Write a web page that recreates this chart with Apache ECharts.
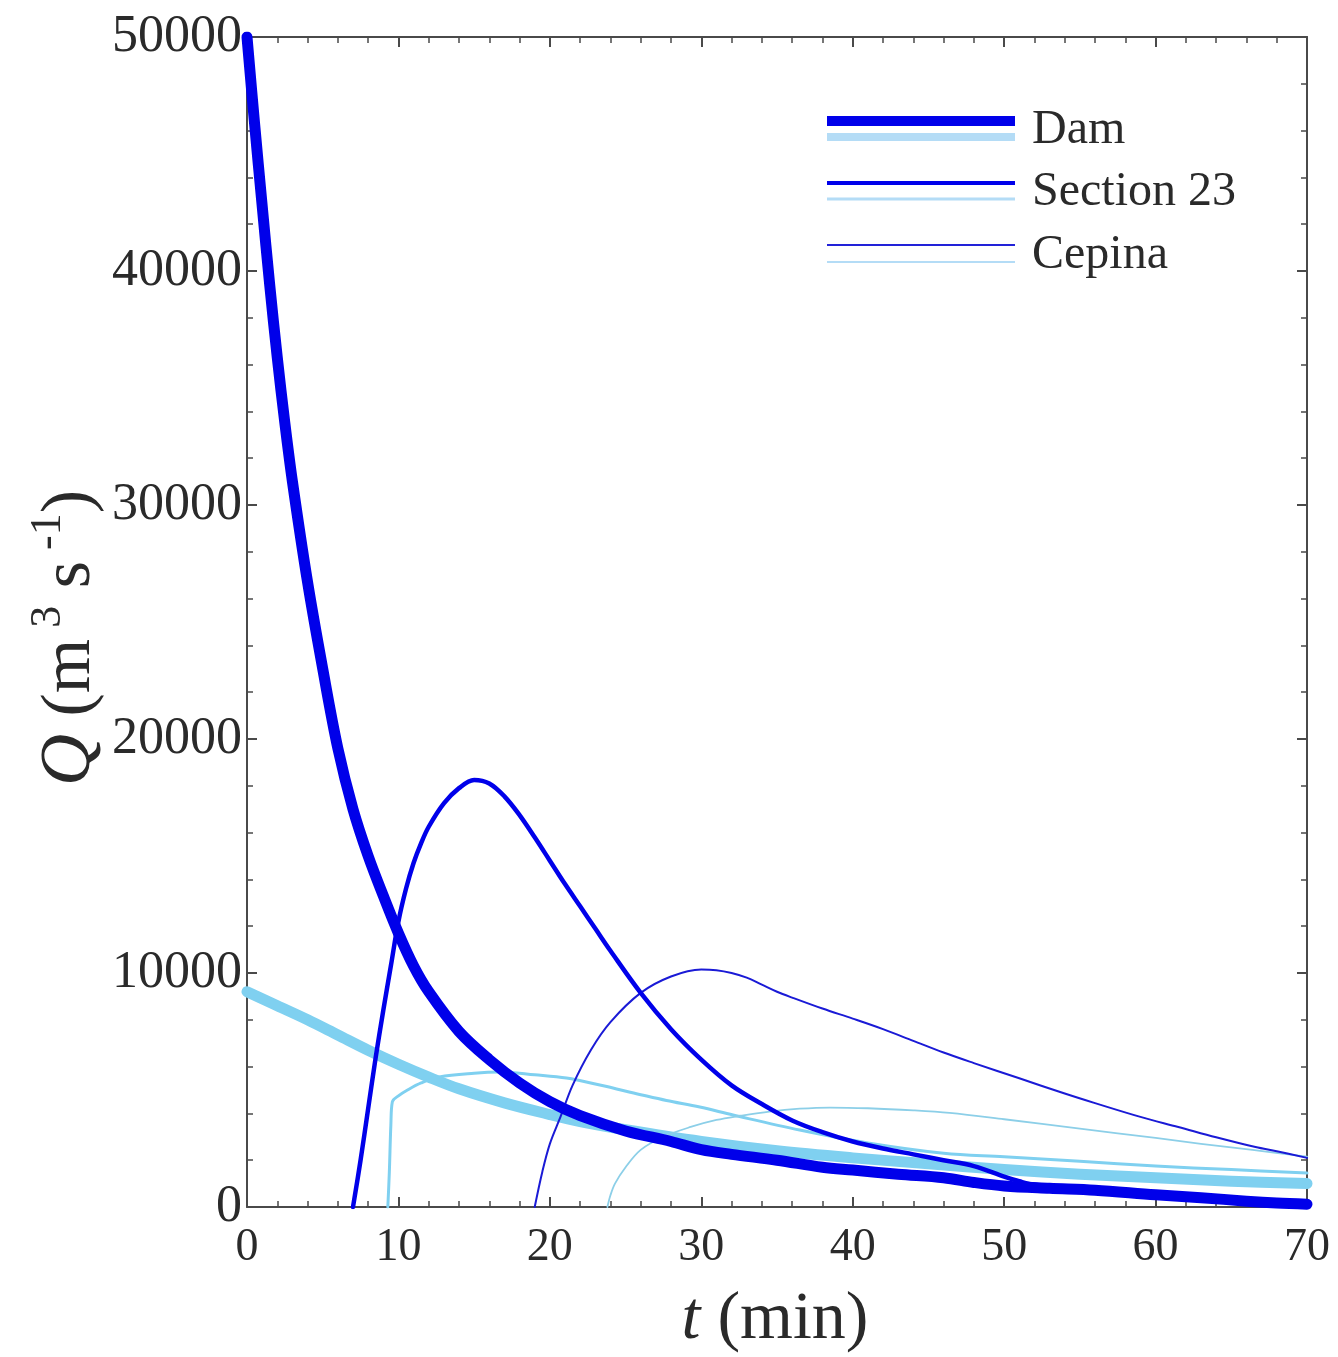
<!DOCTYPE html>
<html>
<head>
<meta charset="utf-8">
<script src="https://cdn.jsdelivr.net/npm/echarts@6/dist/echarts.min.js"></script>
<style>
  html, body { margin: 0; padding: 0; background: #ffffff; }
  #chart { width: 1338px; height: 1357px; }
</style>
</head>
<body>
<div id="chart"></div>
<script>
// Discharge hydrographs, time t in minutes, discharge Q in m3/s
// Dam (dark / light)
const damT  = [0, 0.5, 1, 1.5, 2, 2.5, 3, 4, 5, 6, 7, 8, 9, 10, 11, 12, 14, 16, 18, 20, 22, 25, 28, 30, 32, 35, 38, 40, 43, 46, 48, 50, 53, 56, 60, 63, 66, 68, 70];
const damQ  = [50000, 46300, 42800, 39400, 36300, 33500, 31000, 26700, 23000, 19600, 17000, 15000, 13300, 11700, 10300, 9200, 7500, 6300, 5300, 4500, 3900, 3250, 2800, 2450, 2250, 2000, 1700, 1580, 1400, 1250, 1050, 900, 800, 720, 520, 400, 250, 170, 120];
const damLT = [0, 2, 4, 6, 8, 10, 12, 14, 17, 20, 22, 25, 30, 35, 40, 45, 50, 55, 60, 65, 70];
const damLQ = [9200, 8600, 8000, 7350, 6700, 6100, 5550, 5050, 4450, 3950, 3650, 3300, 2800, 2400, 2100, 1850, 1600, 1400, 1250, 1100, 1000];

// Section 23 (dark / light)
const s23T  = [7, 7.5, 8, 8.5, 9, 9.5, 10, 10.5, 11, 11.5, 12, 13, 14, 15, 16, 17, 18, 19, 20, 21, 22, 23, 24, 26, 28, 30, 32, 34, 36, 38, 40, 42, 44, 46, 48, 50, 51, 52, 55, 58, 61, 64, 67, 70];
const s23Q  = [0, 2000, 4200, 6400, 8400, 10300, 12200, 13600, 14700, 15550, 16250, 17250, 17900, 18250, 18100, 17550, 16750, 15800, 14800, 13800, 12850, 11900, 10950, 9150, 7600, 6300, 5200, 4400, 3700, 3200, 2800, 2500, 2250, 2000, 1750, 1300, 1100, 950, 800, 680, 550, 400, 250, 100];
const s23LT = [9.3, 9.4, 9.5, 9.6, 10, 10.6, 11.5, 12.7, 15, 16.7, 19, 21.1, 23.3, 26, 27.7, 29.9, 32.1, 36.5, 40.9, 46, 50, 55, 60, 65, 70];
const s23LQ = [0, 1500, 3500, 4500, 4750, 5000, 5300, 5560, 5720, 5770, 5650, 5510, 5210, 4800, 4550, 4270, 3930, 3290, 2750, 2300, 2150, 1950, 1750, 1600, 1450];

// Cepina (dark / light)
const cepT  = [19, 19.5, 20, 20.7, 21.5, 22.7, 24, 26, 28, 30, 31, 32, 33, 34, 35, 36, 38, 40, 42, 44, 46, 48, 51, 54, 56, 59, 61.5, 64, 66.6, 68, 70];
const cepQ  = [0, 1500, 2700, 3850, 5200, 6700, 7900, 9150, 9850, 10150, 10120, 10000, 9800, 9500, 9200, 8950, 8480, 8050, 7600, 7100, 6600, 6150, 5500, 4850, 4440, 3850, 3420, 2980, 2560, 2380, 2100];
const cepLT = [23.8, 24, 24.3, 25, 26, 27.5, 29.3, 31, 32.6, 34.5, 36.5, 38.5, 41, 44, 46.4, 50, 55, 60, 63, 66.4, 70];
const cepLQ = [0, 500, 1000, 1700, 2440, 3000, 3420, 3720, 3900, 4080, 4200, 4250, 4220, 4130, 4020, 3750, 3350, 2950, 2700, 2440, 2150];

// Axis ticks
const xTicks = [0, 10, 20, 30, 40, 50, 60, 70];
const yTicks = [0, 10000, 20000, 30000, 40000, 50000];

const DARK = '#0000ea';
const LIGHT = '#7fd0f0';
const FONT = '"Liberation Serif", "DejaVu Serif", serif';
const AXIS = '#4a4a4a';
const INK = '#2a2a2a';
const NBSP = '\u00a0';

function zip(t, q) { return t.map((v, i) => [v, q[i]]); }

function line(name, t, q, color, width, z) {
  return {
    name: name,
    type: 'line',
    data: zip(t, q),
    showSymbol: false,
    symbol: 'none',
    smooth: 0.35,
    clip: true,
    z: z,
    lineStyle: { color: color, width: width, cap: 'round', join: 'round' },
    itemStyle: { color: color },
    emphasis: { disabled: true },
    silent: true
  };
}

const chart = echarts.init(document.getElementById('chart'), null, { renderer: 'canvas' });

const tickCommon = {
  axisLine: { show: true, onZero: false, lineStyle: { color: AXIS, width: 2 } },
  axisTick: { show: true, inside: true, length: 10, lineStyle: { color: AXIS, width: 2 } },
  minorTick: { show: true, splitNumber: 5, length: 6, lineStyle: { color: AXIS, width: 1.5 } },
  splitLine: { show: false },
  minorSplitLine: { show: false }
};

const option = {
  backgroundColor: '#ffffff',
  animation: false,
  grid: { left: 247, top: 37, right: 31, bottom: 150, containLabel: false },
  xAxis: [
    Object.assign({
      type: 'value', min: xTicks[0], max: xTicks[xTicks.length - 1], interval: 10,
      position: 'bottom',
      axisLabel: { show: true, margin: 18, fontFamily: FONT, fontSize: 46, color: INK, formatter: v => String(v) }
    }, tickCommon),
    Object.assign({
      type: 'value', min: xTicks[0], max: xTicks[xTicks.length - 1], interval: 10,
      position: 'top',
      axisLabel: { show: false }
    }, tickCommon)
  ],
  yAxis: [
    Object.assign({
      type: 'value', min: yTicks[0], max: yTicks[yTicks.length - 1], interval: 10000,
      position: 'left',
      axisLabel: { show: true, margin: 5, fontFamily: FONT, fontSize: 52, color: INK, formatter: v => String(v) }
    }, tickCommon),
    Object.assign({
      type: 'value', min: yTicks[0], max: yTicks[yTicks.length - 1], interval: 10000,
      position: 'right',
      axisLabel: { show: false }
    }, tickCommon)
  ],
  series: [
    line('Dam (light)', damLT, damLQ, LIGHT, 11, 1),
    line('Section 23 (light)', s23LT, s23LQ, LIGHT, 3, 2),
    line('Cepina (light)', cepLT, cepLQ, '#8ccfe8', 1.8, 3),
    line('Dam', damT, damQ, DARK, 11, 6),
    line('Section 23', s23T, s23Q, DARK, 4.5, 5),
    line('Cepina', cepT, cepQ, '#1a1ad6', 2, 4)
  ],
  graphic: [
    // axis titles
    {
      type: 'text', x: 775, y: 1320, z: 10,
      style: {
        text: '{t|t}{n|' + NBSP + '(min)}',
        align: 'center', verticalAlign: 'middle',
        rich: {
          t: { fontFamily: FONT, fontStyle: 'italic', fontSize: 68, fill: INK },
          n: { fontFamily: FONT, fontSize: 68, fill: INK }
        }
      }
    },
    {
      type: 'text', x: 63, y: 638, rotation: Math.PI / 2, z: 10,
      style: {
        text: '{q|Q}{n|' + NBSP + '(m}{s|' + NBSP + '3}{n|' + NBSP + 's}{s|' + NBSP + '-1}{n|)}',
        align: 'center', verticalAlign: 'middle',
        rich: {
          q: { fontFamily: FONT, fontStyle: 'italic', fontSize: 72, fill: INK, lineHeight: 86, verticalAlign: 'bottom' },
          n: { fontFamily: FONT, fontSize: 70, fill: INK, lineHeight: 86, verticalAlign: 'bottom' },
          s: { fontFamily: FONT, fontSize: 44, fill: INK, lineHeight: 46, verticalAlign: 'top', padding: [6, 0, 0, 0] }
        }
      }
    },
    // legend samples: dark line over light line for each location
    { type: 'line', shape: { x1: 827, y1: 121, x2: 1015, y2: 121 }, style: { stroke: DARK, lineWidth: 10 } },
    { type: 'line', shape: { x1: 827, y1: 137, x2: 1015, y2: 137 }, style: { stroke: '#b4dcf6', lineWidth: 8 } },
    { type: 'text', left: 1032, top: 106, style: { text: 'Dam', font: '48px ' + FONT, fill: INK } },
    { type: 'line', shape: { x1: 827, y1: 183, x2: 1015, y2: 183 }, style: { stroke: DARK, lineWidth: 4 } },
    { type: 'line', shape: { x1: 827, y1: 199, x2: 1015, y2: 199 }, style: { stroke: '#b4dcf6', lineWidth: 3 } },
    { type: 'text', left: 1032, top: 168, style: { text: 'Section 23', font: '48px ' + FONT, fill: INK } },
    { type: 'line', shape: { x1: 827, y1: 245, x2: 1015, y2: 245 }, style: { stroke: '#2222d8', lineWidth: 2 } },
    { type: 'line', shape: { x1: 827, y1: 262, x2: 1015, y2: 262 }, style: { stroke: '#b4dcf6', lineWidth: 2 } },
    { type: 'text', left: 1032, top: 231, style: { text: 'Cepina', font: '48px ' + FONT, fill: INK } }
  ]
};

chart.setOption(option);
</script>
</body>
</html>
